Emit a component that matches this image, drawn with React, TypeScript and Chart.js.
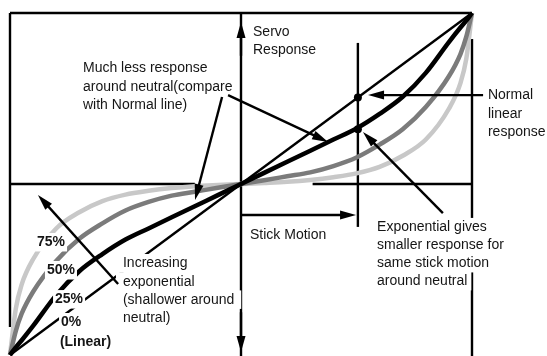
import React, { useEffect, useRef } from "react";
import { Chart, registerables } from "chart.js";

Chart.register(...registerables);

// ---- data (stick position -> servo response, both -1..1) ----
const STICK = [-1, -0.975, -0.95, -0.9, -0.8, -0.7, -0.6, -0.5, -0.4, -0.3, -0.2, -0.1, 0, 0.1, 0.2, 0.3, 0.4, 0.5, 0.6, 0.7, 0.8, 0.9, 0.95, 0.975, 1];
const EXPO_25 = [-1, -0.955, -0.915, -0.83, -0.65, -0.51, -0.41, -0.325, -0.26, -0.195, -0.13, -0.065, 0, 0.065, 0.13, 0.195, 0.26, 0.325, 0.41, 0.51, 0.65, 0.83, 0.915, 0.955, 1];
const EXPO_50 = [-1, -0.86, -0.76, -0.63, -0.45, -0.32, -0.23, -0.155, -0.105, -0.068, -0.045, -0.022, 0, 0.022, 0.045, 0.068, 0.105, 0.155, 0.23, 0.32, 0.45, 0.63, 0.76, 0.86, 1];
const EXPO_75 = [-1, -0.73, -0.59, -0.44, -0.26, -0.165, -0.1, -0.062, -0.04, -0.024, -0.013, -0.006, 0, 0.006, 0.013, 0.024, 0.04, 0.062, 0.1, 0.165, 0.26, 0.44, 0.59, 0.73, 1];
const LINEAR_X = [-1, 1];
const LINEAR_Y = [-1, 1];

// ---- diagram annotations, in data units ----
const FRAME_LINES: number[][] = [
  [-1, 1, 1, 1],
  [-1, 1, -1, -0.836],
  [1, 0.848, 1, -1.02],
  [-1, 0, -0.2, 0],
  [0.31, 0, 1, 0],
  [0, 1, 0, -1.02],
  [0.506, 0.825, 0.506, -0.251],
];
const ARROWS: number[][] = [
  [0, 0.75, 0, 0.947],
  [0, -0.75, 0, -0.982],
  [0, -0.181, 0.498, -0.181],
  [1.048, 0.52, 0.55, 0.52],
  [0.874, -0.17, 0.528, 0.304],
  [-0.082, 0.509, -0.199, -0.094],
  [-0.056, 0.52, 0.377, 0.246],
  [-0.532, -0.585, -0.879, -0.064],
];
const DOTS: number[][] = [
  [0.506, 0.506],
  [0.506, 0.32],
];
const TEXT_SERVO = ["Servo", "Response"];
const TEXT_MUCH_LESS = ["Much less response", "around neutral(compare", "with Normal line)"];
const TEXT_NORMAL = ["Normal", "linear", "response"];
const TEXT_STICK = ["Stick Motion"];
const TEXT_EXPO = ["Exponential gives", "smaller response for", "same stick motion", "around neutral"];
const TEXT_INCREASE = ["Increasing", "exponential", "(shallower around", "neutral)"];
const PCT_LABELS = ["75%", "50%", "25%", "0%", "(Linear)"];
const PCT_POS: number[][] = [
  [-0.883, -0.339],
  [-0.84, -0.503],
  [-0.805, -0.673],
  [-0.779, -0.807],
  [-0.784, -0.924],
];

export default function App() {
  const ref = useRef<HTMLCanvasElement>(null);

  useEffect(() => {
    const canvas = ref.current;
    if (!canvas) return;
    const toPts = (xs: number[], ys: number[]) => xs.map((x, i) => ({ x, y: ys[i] }));
    const FONT = '14px "Liberation Sans", Arial, sans-serif';
    const BOLD = 'bold 14px "Liberation Sans", Arial, sans-serif';

    const annot = {
      id: "annot",
      beforeDatasetsDraw(chart: any) {
        const ctx = chart.ctx;
        const sx = chart.scales.x, sy = chart.scales.y;
        ctx.save();
        ctx.strokeStyle = "#000";
        ctx.lineWidth = 2.4;
        ctx.lineCap = "butt";
        FRAME_LINES.forEach(([x1, y1, x2, y2]) => {
          ctx.beginPath();
          ctx.moveTo(sx.getPixelForValue(x1), sy.getPixelForValue(y1));
          ctx.lineTo(sx.getPixelForValue(x2), sy.getPixelForValue(y2));
          ctx.stroke();
        });
        ctx.restore();
      },
      afterDatasetsDraw(chart: any) {
        const ctx = chart.ctx;
        const sx = chart.scales.x, sy = chart.scales.y;
        const P = (x: number, y: number) => [sx.getPixelForValue(x), sy.getPixelForValue(y)];
        ctx.save();

        const block = (lines: string[], x: number, y: number, dy: number, font: string, bg: boolean, pad = 3) => {
          ctx.font = font;
          const [px, py] = P(x, y);
          lines.forEach((t, i) => {
            const cy = py + i * dy;
            if (bg) {
              const w = ctx.measureText(t).width;
              ctx.fillStyle = "#fff";
              ctx.fillRect(px - pad, cy - 9, w + 2 * pad, 18.5);
            }
          });
          ctx.fillStyle = "#151515";
          ctx.textBaseline = "middle";
          ctx.textAlign = "left";
          lines.forEach((t, i) => ctx.fillText(t, px, py + i * dy + 0.5));
        };

        // text blocks masking lines underneath
        block(TEXT_INCREASE, -0.511, -0.462, 18.2, FONT, true, 7);
        block(TEXT_EXPO, 0.589, -0.251, 18, FONT, true, 4);
        PCT_LABELS.forEach((t, i) => block([t], PCT_POS[i][0], PCT_POS[i][1], 18, BOLD, true, 2));
        block(TEXT_SERVO, 0.052, 0.889, 18, FONT, false);
        block(TEXT_MUCH_LESS, -0.684, 0.678, 18.5, FONT, false);
        block(TEXT_NORMAL, 1.069, 0.52, 18.2, FONT, false);
        block(TEXT_STICK, 0.039, -0.298, 18, FONT, false);

        // arrows
        ctx.strokeStyle = "#000";
        ctx.fillStyle = "#000";
        ARROWS.forEach(([x1, y1, x2, y2]) => {
          const [a, b] = P(x1, y1);
          const [c, d] = P(x2, y2);
          const ang = Math.atan2(d - b, c - a);
          const L = 16, W = 4.5;
          ctx.lineWidth = 2.4;
          ctx.beginPath();
          ctx.moveTo(a, b);
          ctx.lineTo(c - Math.cos(ang) * L * 0.6, d - Math.sin(ang) * L * 0.6);
          ctx.stroke();
          const bx = c - Math.cos(ang) * L, by = d - Math.sin(ang) * L;
          const nx = -Math.sin(ang) * W, ny = Math.cos(ang) * W;
          ctx.beginPath();
          ctx.moveTo(c, d);
          ctx.lineTo(bx + nx, by + ny);
          ctx.lineTo(bx - nx, by - ny);
          ctx.closePath();
          ctx.fill();
        });

        // intersection dots
        DOTS.forEach(([x, y]) => {
          const [a, b] = P(x, y);
          ctx.beginPath();
          ctx.arc(a, b, 4, 0, Math.PI * 2);
          ctx.fill();
        });
        ctx.restore();
      },
    };

    const chart = new Chart(canvas, {
      type: "line",
      data: {
        datasets: [
          { label: "0% (Linear)", data: toPts(LINEAR_X, LINEAR_Y), borderColor: "#000", borderWidth: 2.4, clip: false } as any,
          { label: "25%", data: toPts(STICK, EXPO_25), borderColor: "#000", borderWidth: 4.5, clip: false } as any,
          { label: "50%", data: toPts(STICK, EXPO_50), borderColor: "#7b7b7b", borderWidth: 4.5, clip: false } as any,
          { label: "75%", data: toPts(STICK, EXPO_75), borderColor: "#c8c8c8", borderWidth: 4.5, clip: false } as any,
        ],
      },
      options: {
        animation: false,
        responsive: false,
        layout: { padding: { left: 10, right: 75, top: 13, bottom: 1 } },
        scales: {
          x: { type: "linear", min: -1, max: 1, display: false },
          y: { type: "linear", min: -1, max: 1, display: false },
        },
        plugins: { legend: { display: false }, tooltip: { enabled: false } },
        elements: {
          point: { radius: 0 },
          line: { cubicInterpolationMode: "monotone", fill: false },
        },
      },
      plugins: [annot],
    });
    return () => chart.destroy();
  }, []);

  return (
    <div style={{ position: "fixed", left: 0, top: 0, width: 547, height: 356, background: "#fff" }}>
      <canvas ref={ref} width={547} height={356} style={{ display: "block", width: 547, height: 356 }} />
    </div>
  );
}
